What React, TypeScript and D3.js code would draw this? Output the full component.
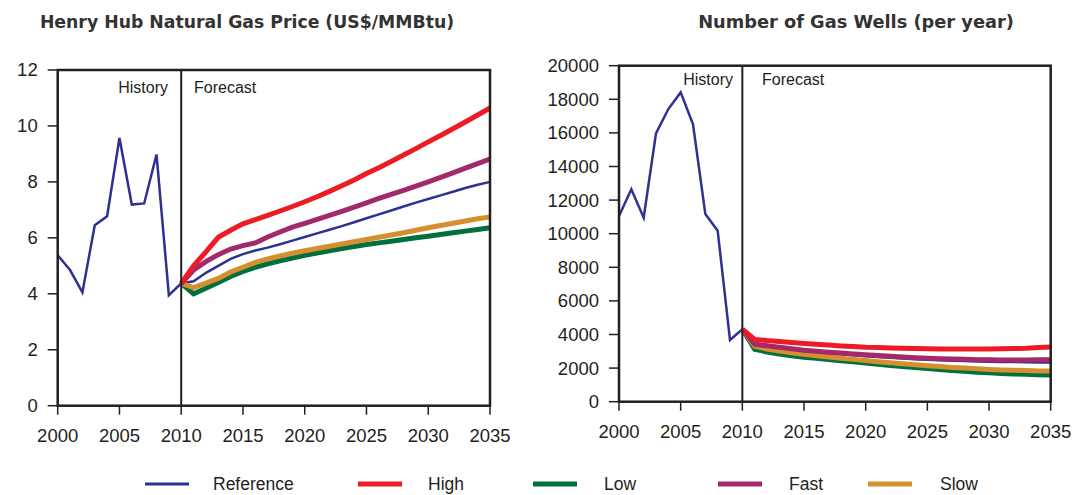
import React from "react";
import * as d3 from "d3";

const historyYears = [2000, 2001, 2002, 2003, 2004, 2005, 2006, 2007, 2008, 2009, 2010];
const forecastYears = d3.range(2010, 2036);

const priceHistory = [5.38, 4.85, 4.05, 6.45, 6.77, 9.57, 7.19, 7.23, 8.98, 3.95, 4.37];
const priceReference = [4.37, 4.45, 4.75, 5.0, 5.25, 5.42, 5.55, 5.65, 5.77, 5.9, 6.03, 6.16, 6.29, 6.42, 6.56, 6.7, 6.84, 6.98, 7.12, 7.26, 7.39, 7.52, 7.65, 7.78, 7.9, 8.0];
const priceHigh = [4.37, 5.0, 5.5, 6.02, 6.27, 6.5, 6.65, 6.8, 6.96, 7.12, 7.29, 7.47, 7.66, 7.86, 8.07, 8.3, 8.51, 8.73, 8.96, 9.19, 9.43, 9.66, 9.9, 10.14, 10.39, 10.64];
const priceLow = [4.37, 4.0, 4.2, 4.4, 4.62, 4.8, 4.95, 5.07, 5.18, 5.28, 5.38, 5.46, 5.54, 5.62, 5.69, 5.76, 5.82, 5.88, 5.94, 6.0, 6.06, 6.12, 6.18, 6.24, 6.3, 6.36];
const priceFast = [4.37, 4.85, 5.15, 5.4, 5.6, 5.72, 5.82, 6.03, 6.21, 6.38, 6.52, 6.66, 6.8, 6.95, 7.1, 7.25, 7.41, 7.55, 7.7, 7.85, 8.0, 8.16, 8.32, 8.49, 8.65, 8.82];
const priceSlow = [4.37, 4.22, 4.38, 4.55, 4.78, 4.95, 5.12, 5.25, 5.35, 5.45, 5.54, 5.62, 5.7, 5.78, 5.86, 5.94, 6.02, 6.1, 6.18, 6.27, 6.36, 6.44, 6.52, 6.6, 6.68, 6.75];

const wellsHistory = [11050, 12640, 10950, 15970, 17420, 18410, 16510, 11170, 10180, 3670, 4310];
const wellsReference = [4310, 3380, 3280, 3180, 3090, 3010, 2940, 2880, 2820, 2760, 2710, 2660, 2610, 2570, 2530, 2500, 2470, 2440, 2420, 2400, 2380, 2370, 2360, 2350, 2340, 2340];
const wellsHigh = [4310, 3710, 3640, 3590, 3530, 3470, 3420, 3370, 3320, 3280, 3240, 3220, 3200, 3180, 3160, 3150, 3140, 3140, 3140, 3140, 3140, 3150, 3160, 3180, 3220, 3260];
const wellsLow = [4310, 3120, 2960, 2840, 2740, 2650, 2580, 2510, 2440, 2370, 2300, 2230, 2160, 2090, 2030, 1970, 1910, 1860, 1810, 1760, 1720, 1680, 1650, 1630, 1610, 1590];
const wellsFast = [4310, 3420, 3330, 3240, 3150, 3060, 3000, 2950, 2900, 2840, 2790, 2750, 2700, 2660, 2620, 2590, 2560, 2540, 2520, 2500, 2490, 2480, 2480, 2480, 2490, 2500];
const wellsSlow = [4310, 3300, 3140, 3010, 2910, 2820, 2740, 2660, 2590, 2520, 2450, 2380, 2320, 2260, 2200, 2140, 2090, 2040, 2000, 1960, 1920, 1890, 1870, 1850, 1830, 1820];

const xTicks = [2000, 2005, 2010, 2015, 2020, 2025, 2030, 2035];
const priceTicks = [0, 2, 4, 6, 8, 10, 12];
const wellsTicks = [0, 2000, 4000, 6000, 8000, 10000, 12000, 14000, 16000, 18000, 20000];

const seriesNames = ["Reference", "High", "Low", "Fast", "Slow"];
const seriesColors: Record<string, string> = {
  Reference: "#2e3192",
  High: "#ed1c24",
  Low: "#00703c",
  Fast: "#a3296a",
  Slow: "#d68f2e",
};
const seriesWidths: Record<string, number> = { Reference: 2.5, High: 5, Low: 5, Fast: 5, Slow: 5 };
const drawOrder = ["Reference", "Low", "Slow", "Fast", "High"];

const INK = "#231f20";
const FONT = "'Liberation Sans', Arial, sans-serif";
const TITLE_FONT = "'DejaVu Sans', sans-serif";

type PanelProps = {
  title: string;
  titleX: number;
  titleSize: number;
  x0: number; x1: number; yTop: number; yBottom: number;
  yMax: number; yTicks: number[];
  history: number[];
  forecast: Record<string, number[]>;
  histLabelRight: number; foreLabelLeft: number; labelBaseline: number;
};

function Panel(p: PanelProps) {
  const x = d3.scaleLinear().domain([2000, 2035]).range([p.x0, p.x1]);
  const y = d3.scaleLinear().domain([0, p.yMax]).range([p.yBottom, p.yTop]);
  const line = d3.line<[number, number]>().x((d) => x(d[0])).y((d) => y(d[1]));
  const histPts = historyYears.map((yr, i) => [yr, p.history[i]] as [number, number]);
  return (
    <g>
      <text x={p.titleX} y={28} textAnchor="middle" fontFamily={TITLE_FONT} fontWeight="bold" fontSize={p.titleSize} fill="#333">
        {p.title}
      </text>
      {p.yTicks.map((t) => (
        <g key={"y" + t}>
          <line x1={p.x0 - 10} x2={p.x0} y1={y(t)} y2={y(t)} stroke={INK} strokeWidth={1.5} />
          <text x={p.x0 - 20} y={y(t)} dy="0.35em" textAnchor="end" fontFamily={FONT} fontSize={18.5} fill={INK}>
            {t}
          </text>
        </g>
      ))}
      {xTicks.map((t) => (
        <g key={"x" + t}>
          <line x1={x(t)} x2={x(t)} y1={p.yBottom} y2={p.yBottom + 9} stroke={INK} strokeWidth={1.5} />
          <text x={x(t)} y={p.yBottom + 36} textAnchor="middle" fontFamily={FONT} fontSize={18.5} fill={INK}>
            {t}
          </text>
        </g>
      ))}
      <text x={p.histLabelRight} y={p.labelBaseline} textAnchor="end" fontFamily={FONT} fontSize={16} fill={INK}>
        History
      </text>
      <text x={p.foreLabelLeft} y={p.labelBaseline} textAnchor="start" fontFamily={FONT} fontSize={16} fill={INK}>
        Forecast
      </text>
      <path d={line(histPts) || ""} fill="none" stroke={seriesColors.Reference} strokeWidth={2.5} />
      {drawOrder.map((name) => {
        const pts = forecastYears.map((yr, i) => [yr, p.forecast[name][i]] as [number, number]);
        return (
          <path key={name} d={line(pts) || ""} fill="none" stroke={seriesColors[name]} strokeWidth={seriesWidths[name]} />
        );
      })}
      <line x1={x(2010)} x2={x(2010)} y1={p.yTop} y2={p.yBottom} stroke={INK} strokeWidth={2} />
      <rect x={p.x0} y={p.yTop} width={p.x1 - p.x0} height={p.yBottom - p.yTop} fill="none" stroke={INK} strokeWidth={2.5} />
    </g>
  );
}

const legendLineX = [145, 358, 533, 718, 868];
const legendTextX = [213, 428, 604, 789, 940];

export default function App() {
  return (
    <svg width={1076} height={495} style={{ position: "absolute", left: 0, top: 0, background: "#fff" }}>
      <rect width={1076} height={495} fill="#fff" />
      <Panel
        title="Henry Hub Natural Gas Price (US$/MMBtu)"
        titleX={247}
        titleSize={17.3}
        x0={57.7} x1={490} yTop={70} yBottom={405.7}
        yMax={12} yTicks={priceTicks}
        history={priceHistory}
        forecast={{ Reference: priceReference, High: priceHigh, Low: priceLow, Fast: priceFast, Slow: priceSlow }}
        histLabelRight={168} foreLabelLeft={194} labelBaseline={93}
      />
      <Panel
        title="Number of Gas Wells (per year)"
        titleX={856}
        titleSize={17.8}
        x0={619} x1={1050.7} yTop={65.7} yBottom={401.7}
        yMax={20000} yTicks={wellsTicks}
        history={wellsHistory}
        forecast={{ Reference: wellsReference, High: wellsHigh, Low: wellsLow, Fast: wellsFast, Slow: wellsSlow }}
        histLabelRight={733} foreLabelLeft={762} labelBaseline={85}
      />
      {seriesNames.map((name, i) => (
        <g key={name}>
          <line x1={legendLineX[i]} x2={legendLineX[i] + 44} y1={484} y2={484} stroke={seriesColors[name]} strokeWidth={seriesWidths[name] === 5 ? 5 : 3} />
          <text x={legendTextX[i]} y={490} fontFamily={FONT} fontSize={17.5} fill={INK}>
            {name}
          </text>
        </g>
      ))}
    </svg>
  );
}
